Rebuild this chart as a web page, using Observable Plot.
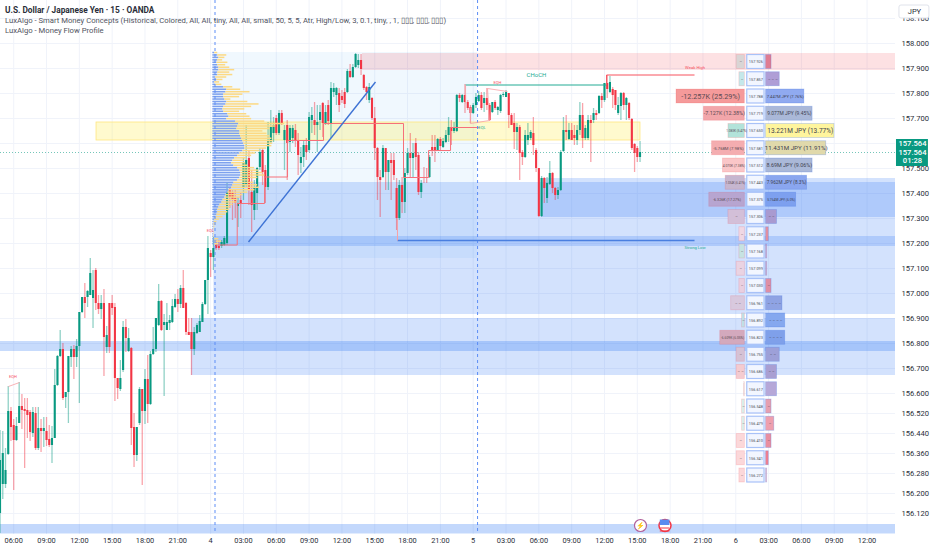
<!DOCTYPE html>
<html><head><meta charset="utf-8">
<script src="https://cdn.jsdelivr.net/npm/d3@7"></script>
<script src="https://cdn.jsdelivr.net/npm/@observablehq/plot@0.6"></script>
<style>
html,body{margin:0;padding:0;background:#fff;overflow:hidden}
#wrap{position:relative;width:932px;height:550px}
#head{position:absolute;left:5px;top:5px;font:7.7px/10px Roboto,sans-serif;color:#50535e;white-space:nowrap}
#head b{font-weight:700;font-size:8.3px;color:#2a2e39}
</style></head><body>
<div id="wrap"><div id="chart"></div>
<div id="head"><b>U.S. Dollar / Japanese Yen · 15 · OANDA</b><br>LuxAlgo - Smart Money Concepts (Historical, Colored, All, All, tiny, All, All, small, 50, 5, 5, Atr, High/Low, 3, 0.1, tiny, , 1, ▯▯▯, ▯▯▯, ▯▯▯)<br>LuxAlgo - Money Flow Profile</div></div>
<script>
// Candles: thousandths of a yen above 156.000, one entry per 15-minute bar
const opens=[120,236,236,356,528,472,412,480,548,536,532,524,440,520,380,460,448,448,416,392,420,632,748,776,584,604,744,776,744,788,924,984,984,992,980,1092,960,936,960,784,960,960,944,660,616,692,864,768,780,464,352,480,616,528,656,556,756,776,872,968,872,852,880,884,944,976,956,1020,960,844,844,776,840,844,884,956,1052,1160,1144,1192,1188,1188,1192,1200,1412,1400,1380,1348,1372,1424,1432,1540,1404,1332,1400,1504,1572,1492,1424,1604,1640,1700,1640,1720,1612,1672,1604,1620,1652,1612,1520,1544,1592,1572,1692,1692,1672,1692,1760,1680,1752,1680,1804,1792,1800,1788,1804,1804,1888,1864,1904,1912,1932,1872,1824,1772,1780,1700,1580,1464,1464,1580,1484,1532,1532,1420,1300,1432,1364,1480,1560,1540,1600,1552,1404,1464,1464,1464,1584,1584,1572,1616,1584,1604,1632,1664,1648,1648,1792,1764,1792,1764,1744,1720,1752,1768,1792,1760,1780,1752,1724,1764,1732,1728,1792,1784,1800,1712,1680,1644,1664,1564,1544,1612,1620,1640,1572,1500,1308,1460,1380,1436,1480,1420,1392,1412,1568,1652,1616,1652,1632,1612,1652,1712,1620,1620,1692,1692,1720,1720,1788,1772,1840,1804,1816,1812,1720,1748,1800,1752,1760,1696,1596,1580,1544];
const highs=[452,448,380,628,544,496,504,644,596,580,580,532,544,544,544,496,504,504,472,468,696,752,852,800,604,748,788,792,816,924,984,1040,1012,1140,1092,1100,992,992,1016,868,960,992,960,660,732,888,896,860,784,520,464,624,616,696,752,768,864,900,1036,972,916,960,912,976,996,1016,1032,1092,964,900,900,864,880,912,964,1052,1228,1172,1224,1212,1212,1212,1228,1440,1420,1412,1412,1384,1400,1540,1672,1572,1492,1452,1504,1580,1580,1512,1684,1732,1704,1712,1732,1732,1672,1692,1672,1672,1676,1640,1584,1612,1620,1724,1744,1764,1752,1752,1764,1752,1772,1844,1840,1824,1820,1812,1820,1896,1916,1916,1960,1956,1956,1876,1828,1840,1784,1744,1584,1492,1592,1580,1532,1560,1560,1460,1452,1464,1500,1580,1640,1600,1620,1564,1452,1504,1500,1552,1632,1632,1620,1624,1620,1652,1704,1692,1684,1796,1800,1796,1836,1772,1752,1760,1800,1808,1804,1804,1820,1760,1764,1772,1748,1796,1804,1812,1800,1720,1720,1680,1672,1572,1652,1680,1652,1704,1580,1500,1468,1464,1464,1528,1484,1424,1424,1572,1704,1712,1680,1680,1672,1672,1764,1760,1672,1712,1712,1740,1732,1792,1800,1840,1872,1868,1824,1812,1784,1804,1804,1784,1764,1700,1600,1588,1608];
const lows=[40,176,220,352,408,212,408,480,456,300,420,408,424,372,372,364,384,388,384,320,420,628,744,572,540,480,704,656,704,560,920,900,944,992,860,932,916,896,668,760,760,912,568,576,608,684,764,764,392,304,328,472,232,476,480,552,752,764,868,848,588,852,852,880,940,924,940,940,832,832,672,752,836,844,884,952,916,1064,1092,1172,1172,1180,1188,1192,1340,1292,1300,1264,1300,1372,1420,1352,1244,1292,1332,1492,1432,1360,1412,1600,1604,1632,1632,1672,1492,1452,1564,1600,1584,1472,1480,1504,1532,1564,1640,1632,1564,1652,1624,1672,1672,1620,1784,1752,1724,1760,1740,1800,1860,1860,1900,1900,1872,1812,1772,1760,1692,1532,1372,1304,1460,1412,1412,1372,1452,1252,1292,1320,1320,1472,1460,1464,1492,1392,1380,1440,1440,1460,1548,1524,1568,1572,1580,1600,1604,1592,1640,1644,1764,1760,1720,1732,1680,1716,1740,1764,1732,1724,1732,1688,1720,1732,1712,1720,1784,1784,1660,1672,1576,1572,1452,1512,1540,1592,1612,1552,1484,1304,1304,1360,1360,1432,1400,1372,1376,1408,1564,1612,1612,1612,1592,1592,1632,1580,1612,1612,1524,1680,1692,1716,1740,1764,1780,1800,1740,1732,1712,1692,1732,1692,1692,1572,1484,1524,1524];
const closes=[332,360,292,528,464,412,468,548,532,528,512,444,524,380,460,448,460,412,392,420,632,748,776,580,604,748,776,744,788,924,984,960,1008,1080,1012,960,936,960,824,832,784,940,660,620,660,864,820,820,460,352,464,616,528,656,556,756,776,900,968,852,884,884,892,948,976,956,1020,940,844,832,776,844,872,888,956,1052,1180,1144,1180,1180,1180,1204,1220,1404,1384,1372,1360,1360,1360,1520,1532,1412,1352,1424,1500,1564,1484,1424,1612,1664,1672,1640,1720,1680,1652,1600,1660,1660,1612,1552,1544,1592,1564,1704,1712,1672,1684,1724,1680,1724,1688,1820,1820,1820,1752,1772,1756,1888,1864,1904,1956,1932,1896,1820,1804,1824,1700,1580,1464,1452,1580,1484,1532,1520,1472,1300,1432,1364,1480,1560,1540,1560,1544,1404,1440,1460,1460,1544,1572,1572,1616,1588,1608,1632,1664,1648,1664,1792,1780,1792,1764,1740,1720,1752,1784,1792,1740,1780,1752,1692,1764,1740,1744,1792,1796,1804,1712,1672,1644,1664,1560,1544,1632,1632,1644,1592,1500,1308,1460,1420,1440,1480,1420,1392,1412,1564,1652,1644,1652,1612,1620,1652,1712,1620,1660,1692,1680,1720,1712,1788,1772,1840,1816,1844,1792,1752,1752,1800,1752,1780,1700,1580,1560,1544,1564];
const firstBarHour=4.75, barHours=0.25;

// Money flow profile, one row per price bin (widths in 15-minute bars)
const profileBlue=[.7,1.8,2.2,1.8,1.5,1.8,2.2,2.2,1.8,1.8,1.1,1.5,.7,1.1,4,5.1,4.8,4,4,4.4,5.1,4.8,4,3.7,4,5.5,5.9,5.1,8.4,9.5,9.1,8.8,9.9,9.9,10.2,10.6,11,11.3,11.7,11.7,11,9.9,9.1,8,7.3,6.9,7.7,9.1,9.9,10.2,10.2,9.9,9.1,7.7,7.3,6.9,5.9,5.5,4.8,4.4,3.7,3.3,2.6,2.2,1.8,1.8,1.5,1.1,.7,.5,.4,.4,.3,.3,.3,.3,.7,.7,.7];
const profileYellow=[1.1,3.3,2.2,1.8,4,2.9,4,5.8,4.4,5.5,4,2.2,1.8,2.2,3.3,5.1,8.8,7,5.8,2.2,7.7,12.1,10.2,8,5.8,6.9,7.7,9.1,10.6,16.8,13.9,12.1,8.4,9.9,10.6,11,11,10.6,9.9,8,6.2,5.8,5.1,4.4,4.4,5.1,5.1,6.2,6.9,8,8.8,6.6,4.4,7.3,9.1,10.2,9.5,7.3,6.2,5.8,5.5,5.5,4.8,4.4,4.4,3.7,3.3,2.6,1.8,1,.7,.4,.2,.2,.2,.2,1.5,2.5,1.5];

// Axis ticks (157.600 sits behind the current-price badge: grid line only)
const gridPrices=[158.1,158,157.9,157.8,157.7,157.6,157.5,157.4,157.3,157.2,157.1,157,156.9,156.8,156.7,156.6,156.52,156.44,156.36,156.28,156.2,156.12];
const priceLabels=[158.1,158,157.9,157.8,157.7,157.5,157.4,157.3,157.2,157.1,157,156.9,156.8,156.7,156.6,156.52,156.44,156.36,156.28,156.2,156.12];
const timeTicks=[6,9,12,15,18,21,24,27,30,33,36,39,42,45,48,51,54,57,60,63,66,69,72,75,78,81,84];
const timeLabels=["06:00","09:00","12:00","15:00","18:00","21:00","4","03:00","06:00","09:00","12:00","15:00","18:00","21:00","5","03:00","06:00","09:00","12:00","15:00","18:00","21:00","6","03:00","06:00","09:00","12:00"];

// Zones
const zoneStart=[24.26,37.88,13.57,24.3,54.25,24.3,22.25,4.79,4.79];
const zoneEnd=[48.4,86.6,63.29,86.6,86.6,86.6,86.6,86.6,86.6];
const zoneTop=[157.964,157.96,157.684,157.444,157.46,157.228,156.9,156.808,156.076];
const zoneBottom=[157.14,157.892,157.612,156.916,157.304,157.188,156.672,156.768,156.038];
const zoneFill=["#2196f3","#f23645","#ffeb3b","#216ef3","#216ef3","#216ef3","#216ef3","#216ef3","#216ef3"];
const zoneOpacity=[.065,.15,.25,.2,.2,.2,.2,.25,.27];

// Right-hand flow table
const rowPrices=[157.926,157.857,157.788,157.719,157.650,157.581,157.512,157.443,157.375,157.306,157.237,157.168,157.099,157.030,156.961,156.892,156.823,156.755,156.686,156.617,156.548,156.479,156.410,156.341,156.272];
const outflowBars=[3,2,25,15,6,12,8,7,13,6,2,2,3,2,5,1,9,3,3,.3,1,1,3,3,2];
const inflowBars=[2,5,14,17,25,22,17,15,11,4,1,.4,.4,2,6,7,7,5,4,4,2,3,2,1,.4];
const outflowFill=["#d9d5d5","#c5e8ea","#f59a9a","#f2a6aa","#b2e3da","#f4adb0","#fac6c8","#c6b6cf","#b7a5d0","#d3bfd8","#f0d8e4","#c6e3e2","#ead3e2","#e9cfe0","#d8c9de","#bfe0e6","#d3a9bd","#d5c2d5","#f4cbd0","#dff3ef","#d9eeea","#d9eeea","#fbd8da","#fbd8da","#fbd8da"];
const inflowFill=["#df7c92","#af9ed6","#90aaf0","#aab8d8","#fff59d","#e0d9ab","#aab8d8","#8aa6ef","#7da0ef","#a99ad0","#e28fa0","#e9a5b5","#e9a5b5","#de8fa5","#8fa3e3","#85a8ef","#7fa0ea","#9da0d8","#a99fd2","#b6a8d8","#e5a0b0","#ee9fae","#e88fa0","#ef7f90","#f8b8c0"];
const outflowText=["–","–","-12.257K (25.29%)","-7.127K (12.38%)","1.083K (5.47%)","-5.768M (7.98%)","4.070K (7.38%)","1.034K (6.41%)","-6.326K (17.27%)","–","–","–","–","–","– –","–","-6.609K (6.05%)","–","– –","","–","–","–","–","–"];
const outflowSize=[4,4,7.2,5.4,3.1,4.2,3.3,2.9,3.7,4,4,4,4,4,4,4,3.3,4,4,4,4,4,4,4,4];
const inflowText=["","– – –","7.447M JPY (7.76%)","9.077M JPY (9.45%)","13.221M JPY (13.77%)","11.431M JPY (11.91%)","8.69M JPY (9.06%)","7.962M JPY (8.3%)","5.764M JPY (6.0%)","– –","","","","–","– – – –","– – – –","– – – –","– –","– –","","–","–","–","",""];
const inflowSize=[4,4,4.1,4.9,6.5,6.2,5.4,4.7,3.3,4,4,4,4,4,4,4,4,4,4,4,4,4,4,4,4];

// Structure annotations
const stairHours=[24.54,26.43,26.43,28.93,28.93,31.03,31.03,34.32,34.32,41.63,41.63,43.92,43.92,45.93,45.93,48.49];
const stairPrices=[157.194,157.194,157.36,157.36,157.466,157.466,157.612,157.612,157.68,157.68,157.464,157.464,157.572,157.572,157.664,157.664];
const noteText=["CHoCH","Weak High","Strong Low","EQH","EQH","EQL","EQL"];
const noteHour=[53.78,68.28,68.28,50.22,5.93,48.8,23.97];
const notePrice=[157.872,157.904,157.184,157.844,156.668,157.662,157.252];
const noteColor=["#22ab94","#f7525f","#22ab94","#f7525f","#f7525f","#22ab94","#f7525f"];
const noteSize=[6,4.2,4.2,4,4,4,4];

const bars=opens.map((o,i)=>({hour:firstBarHour+i*barHours,o:156+o/1000,h:156+highs[i]/1000,l:156+lows[i]/1000,c:156+closes[i]/1000,col:closes[i]>=o?"#089981":"#f23645"}));
const zones=zoneStart.map((s,i)=>({s,e:zoneEnd[i],t:zoneTop[i],b:zoneBottom[i],f:zoneFill[i],op:zoneOpacity[i]}));
const profile=profileBlue.map((b,i)=>({p:157.962-.0098*i,b,y:profileYellow[i]}));
const rows=rowPrices.map((p,i)=>({p,o:outflowBars[i],n:inflowBars[i],of:outflowFill[i],nf:inflowFill[i],ot:outflowText[i],nt:inflowText[i],os:outflowSize[i],ns:inflowSize[i],label:p.toFixed(3)}));
const stairs=stairHours.map((h,i)=>({h,p:stairPrices[i]}));
const notes=noteText.map((t,i)=>({t,h:noteHour[i],p:notePrice[i],c:noteColor[i],s:noteSize[i]}));
const segs=[
 {h1:47.3,p1:157.834,h2:60.19,p2:157.834,c:"#22ab94",w:1},
 {h1:60.19,p1:157.874,h2:68.23,p2:157.874,c:"#f7525f",w:1},
 {h1:60.19,p1:157.874,h2:60.19,p2:157.834,c:"#f7525f",w:1},
 {h1:41.08,p1:157.212,h2:68.23,p2:157.212,c:"#4a7fe0",w:1.4},
 {h1:41.08,p1:157.3,h2:41.08,p2:157.212,c:"#f7a0a5",w:1},
 {h1:27.46,p1:157.206,h2:39.07,p2:157.846,c:"#3d72d4",w:1.4},
 {h1:47.3,p1:157.834,h2:47.3,p2:157.76,c:"#f7a0a5",w:.8},
 {h1:49.31,p1:157.82,h2:51.13,p2:157.808,c:"#f7a0a5",w:.8},
 {h1:49.31,p1:157.82,h2:49.49,p2:157.692,c:"#f7a0a5",w:.8},
 {h1:47.75,p1:157.68,h2:49.49,p2:157.692,c:"#f7a0a5",w:.8},
 {h1:47.75,p1:157.68,h2:47.75,p2:157.744,c:"#f7a0a5",w:.8},
 {h1:5.52,p1:156.628,h2:6.53,p2:156.644,c:"#f7a0a5",w:.8}
];
const L0=72.83,CL=73.05,CR=74.63,R0=74.77,HW=.028,ROW=.003,FONT="Roboto, sans-serif";
const fmtTime=new Map(timeTicks.map((t,i)=>[t,timeLabels[i]]));

const svg=Plot.plot({
 width:932,height:550,marginLeft:0,marginRight:37,marginTop:0,marginBottom:16,
 x:{domain:[4.793,86.6],range:[0,895],axis:null},
 y:{domain:[158.172,156.036],range:[0,534],axis:null},
 style:{background:"#fff",fontFamily:FONT},
 marks:[
  Plot.ruleX(timeTicks,{stroke:"#f0f3fa",strokeWidth:1}),
  Plot.ruleY(gridPrices,{x1:4.793,x2:86.6,stroke:"#f0f3fa",strokeWidth:1}),
  Plot.rect(zones,{x1:"s",x2:"e",y1:"t",y2:"b",fill:"f",fillOpacity:"op"}),
  Plot.rect([zones[2]],{x1:"s",x2:"e",y1:"t",y2:"b",fill:"none",stroke:"#ffe680",strokeWidth:.8}),
  Plot.ruleY([157.564],{x1:4.793,x2:86.6,stroke:"#089981",strokeWidth:.8,strokeDasharray:"1,2",strokeOpacity:.7}),
  Plot.ruleX(bars,{x:"hour",y1:"l",y2:"h",stroke:"col",strokeWidth:1.3,strokeOpacity:.45}),
  Plot.ruleX(bars,{x:"hour",y1:"o",y2:"c",stroke:"col",strokeWidth:2.1}),
  Plot.line(stairs,{x:"h",y:"p",stroke:"#f6707a",strokeWidth:1}),
  Plot.rect(profile,{x1:24.2,x2:d=>24.2+d.b*barHours,y1:d=>d.p+ROW,y2:d=>d.p-ROW,fill:"#7ea1ee"}),
  Plot.rect(profile,{x1:d=>24.2+d.b*barHours,x2:d=>24.2+(d.b+d.y)*barHours,y1:d=>d.p+ROW,y2:d=>d.p-ROW,fill:"#fcd983"}),
  Plot.ruleX([24.4,48.4],{stroke:"#5c8df6",strokeWidth:1,strokeDasharray:"3,3"}),
  Plot.link(segs,{x1:"h1",y1:"p1",x2:"h2",y2:"p2",stroke:"c",strokeWidth:"w"}),
  Plot.text(notes,{x:"h",y:"p",text:"t",fill:"c",fontSize:"s"}),
  // flow table
  Plot.rect(rows,{x1:d=>L0-d.o*barHours,x2:L0,y1:d=>d.p+HW,y2:d=>d.p-HW,fill:"of",stroke:"#f23645",strokeOpacity:.18,strokeWidth:.8}),
  Plot.rect(rows,{x1:R0,x2:d=>R0+d.n*barHours,y1:d=>d.p+HW,y2:d=>d.p-HW,fill:"nf",stroke:"#3f6fe0",strokeOpacity:.3,strokeWidth:.8}),
  Plot.rect(rows,{x1:CL,x2:CR,y1:d=>d.p+HW,y2:d=>d.p-HW,fill:"#f2f6ff",stroke:"#a8c2f8",strokeWidth:1.2}),
  Plot.text(rows,{x:(CL+CR)/2,y:"p",text:"label",fontSize:3.9,fill:"#4a4e5a"}),
  Plot.text(rows,{x:d=>L0-d.o*barHours/2,y:"p",text:"ot",fontSize:"os",fill:"#5a4a52"}),
  Plot.text(rows,{x:d=>R0+d.n*barHours/2,y:"p",text:"nt",fontSize:"ns",fill:"#3f4350"}),
  // event markers
  Plot.dot([{h:63.29,p:156.072}],{x:"h",y:"p",r:6,fill:"#fff",stroke:"#b0609a",strokeWidth:1.2}),
  Plot.text([{h:63.29,p:156.072}],{x:"h",y:"p",text:()=>"⚡",fontSize:7,fill:"#9c5aa8"}),
  Plot.dot([{h:65.53,p:156.072}],{x:"h",y:"p",r:6,fill:"#fff",stroke:"#f23645",strokeWidth:1.5}),
  Plot.rect([{h:65.53}],{x1:65.1,x2:65.98,y1:156.094,y2:156.072,fill:"#5a8cf0"}),
  Plot.ruleY([156.062,156.05],{x1:65.1,x2:65.98,stroke:"#f23645",strokeWidth:1}),
  // axes
  Plot.axisX({ticks:timeTicks,tickFormat:d=>fmtTime.get(d),anchor:"bottom",tickSize:0,tickPadding:3,label:null,fontSize:7.4,fill:"#2a2e39"}),
  Plot.axisY({ticks:priceLabels,tickFormat:d3.format(".3f"),anchor:"right",tickSize:0,tickPadding:6,label:null,fontSize:7.6,fill:"#2a2e39"}),
  // current price badge and currency box
  Plot.rect([0],{x1:86.69,x2:89.61,y1:157.616,y2:157.508,fill:"#089981"}),
  Plot.text(["157.564","157.564","01:28"],{x:88.15,y:(d,i)=>[157.6,157.564,157.532][i],text:d=>d,fill:"#fff",fontSize:7.6,fontWeight:500}),
  Plot.rect([0],{x1:86.96,x2:89.7,y1:158.152,y2:158.1,fill:"#fff",stroke:"#e0e3eb",rx:2}),
  Plot.text(["JPY"],{x:88.33,y:158.128,text:d=>d,fill:"#2a2e39",fontSize:7.5})
 ]
});
document.getElementById("chart").appendChild(svg);
</script></body></html>
